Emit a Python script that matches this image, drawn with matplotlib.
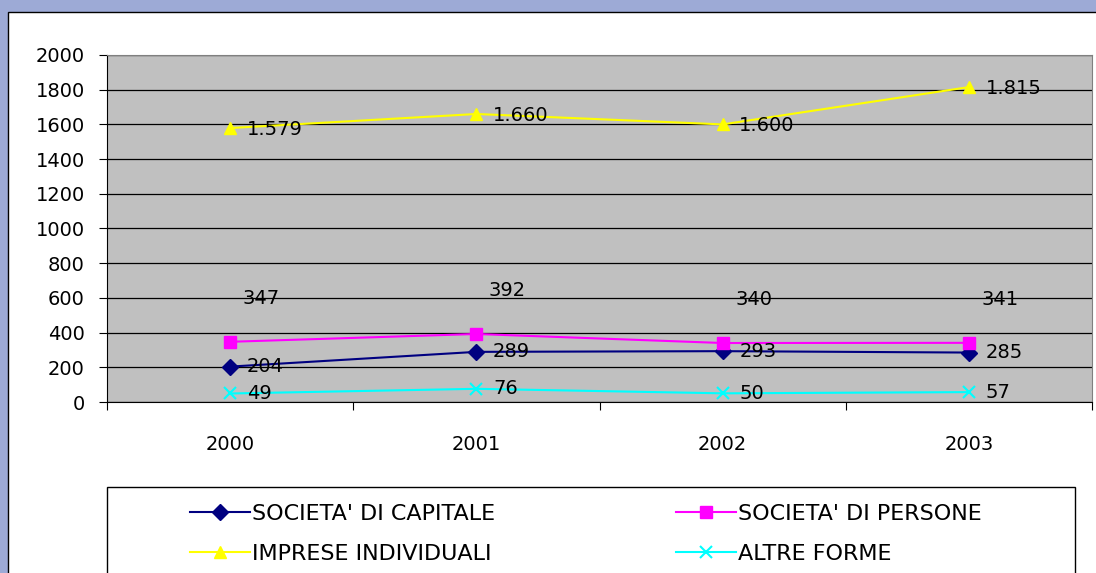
import matplotlib.pyplot as plt
from matplotlib.patches import Rectangle

years = ['2000', '2001', '2002', '2003']
capitale = [204, 289, 293, 285]
persone = [347, 392, 340, 341]
individuali = [1579, 1660, 1600, 1815]
altre = [49, 76, 50, 57]

W, H = 1096, 573
plt.rcParams['font.family'] = 'DejaVu Sans'

fig = plt.figure(figsize=(W / 100, H / 100), dpi=100, facecolor='#9DAAD6')

# white chart panel
fig.add_artist(Rectangle((8 / W, -0.05), 1.1, (H - 12) / H + 0.05, transform=fig.transFigure,
                         facecolor='white', edgecolor='black', lw=1, zorder=-1))

ax = fig.add_axes([107 / W, (H - 402) / H, (1092 - 107) / W, (402 - 55) / H])
ax.set_facecolor('#C0C0C0')
x = list(range(len(years)))

def fmt(v):
    return f'{v:,}'.replace(',', '.')

l1, = ax.plot(x, capitale, color='#000080', lw=1.5, marker='D', ms=8, zorder=3)
l2, = ax.plot(x, persone, color='#FF00FF', lw=1.5, marker='s', ms=8, zorder=3)
l3, = ax.plot(x, individuali, color='#FFFF00', lw=1.5, marker='^', ms=9, zorder=3)
l4, = ax.plot(x, altre, color='#00FFFF', lw=1.5, marker='x', ms=9, mew=1.5, zorder=3)

for xi in x:
    ax.annotate(fmt(capitale[xi]), (xi, capitale[xi]), xytext=(12, 0), textcoords='offset points',
                ha='left', va='center', fontsize=14)
    ax.annotate(fmt(persone[xi]), (xi, persone[xi]), xytext=(9, 31), textcoords='offset points',
                ha='left', va='center', fontsize=14)
    ax.annotate(fmt(individuali[xi]), (xi, individuali[xi]), xytext=(12, -1), textcoords='offset points',
                ha='left', va='center', fontsize=14)
    ax.annotate(fmt(altre[xi]), (xi, altre[xi]), xytext=(12, 0), textcoords='offset points',
                ha='left', va='center', fontsize=14)

ax.set_xlim(-0.5, len(years) - 0.5)
ax.set_ylim(0, 2000)
ax.set_yticks(range(0, 2001, 200))
ax.grid(axis='y', color='black', lw=0.9)
ax.set_axisbelow(True)

ax.set_xticks([i - 0.5 for i in range(len(years) + 1)])
ax.set_xticklabels([])
ax.set_xticks(x, minor=True)
ax.set_xticklabels(years, minor=True)
ax.tick_params(axis='x', which='major', length=6, direction='out', color='black')
ax.tick_params(axis='x', which='minor', length=0, pad=24, labelsize=14)
ax.tick_params(axis='y', length=6, direction='out', pad=10, labelsize=14)

for s in ['top', 'right']:
    ax.spines[s].set_color('#808080')
for s in ['left', 'bottom']:
    ax.spines[s].set_color('black')

# legend box
fig.add_artist(Rectangle((107 / W, -0.05), 968 / W, (H - 487) / H + 0.05, transform=fig.transFigure,
                         facecolor='white', edgecolor='black', lw=1, zorder=1))

kw = dict(loc='upper left', frameon=False, borderpad=0, borderaxespad=0, fontsize=16,
          handlelength=2.7, handletextpad=0.1, labelspacing=0.9)
leg1 = fig.legend([l1, l3], ["SOCIETA' DI CAPITALE", 'IMPRESE INDIVIDUALI'],
                  bbox_to_anchor=(190 / W, (H - 504) / H), **kw)
leg2 = fig.legend([l2, l4], ["SOCIETA' DI PERSONE", 'ALTRE FORME'],
                  bbox_to_anchor=(676 / W, (H - 504) / H), **kw)
leg1.set_zorder(2)
leg2.set_zorder(2)

fig.savefig('out.png', dpi=100, facecolor=fig.get_facecolor())
